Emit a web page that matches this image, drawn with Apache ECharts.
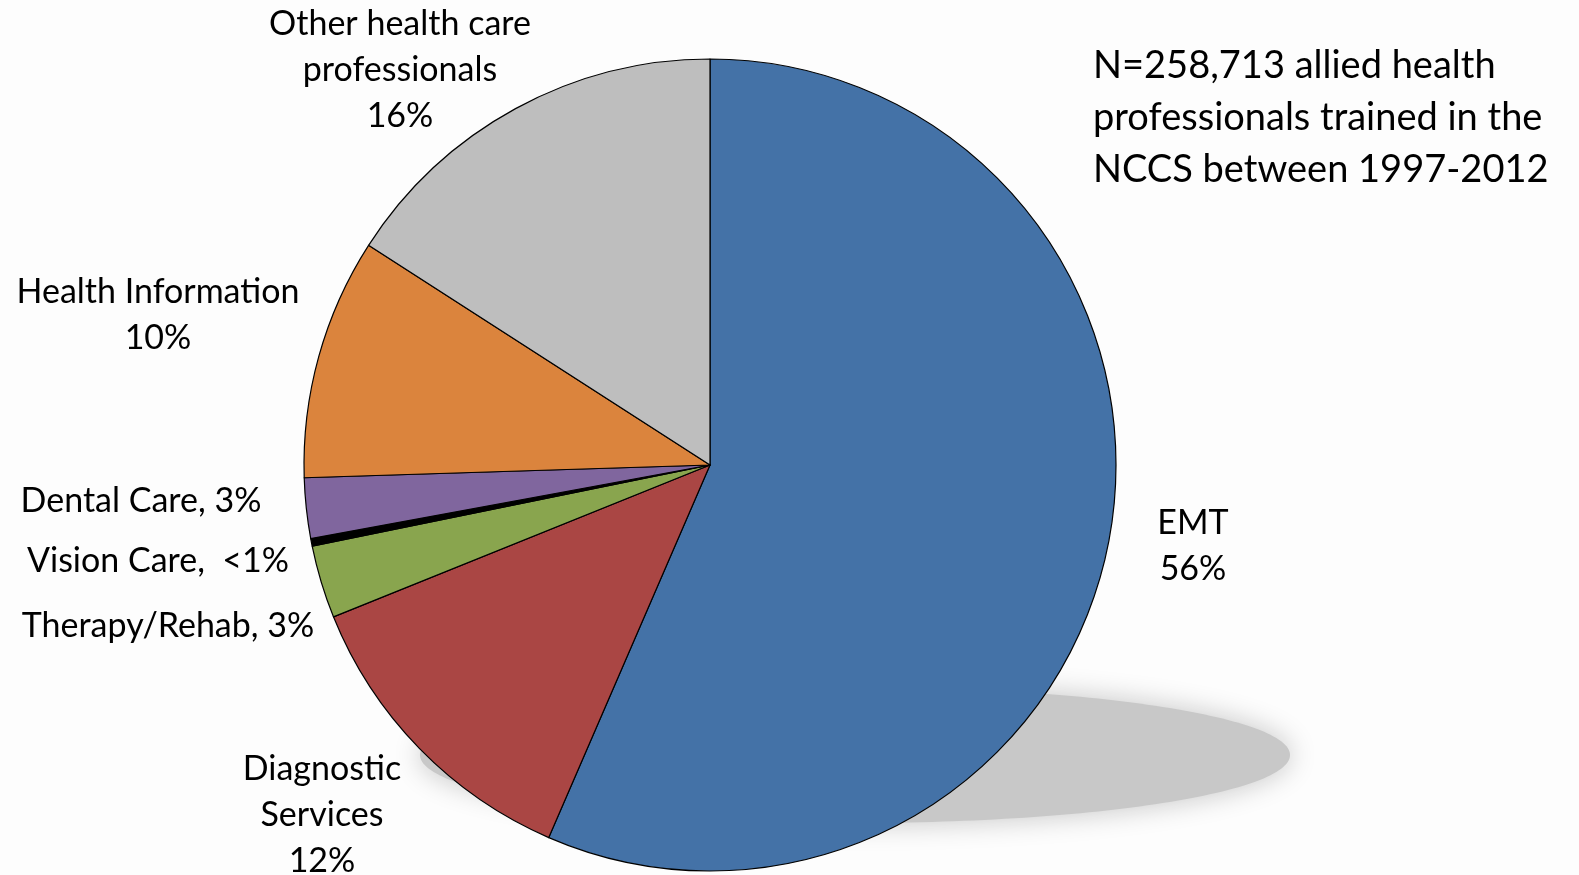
<html>
<script src="https://cdn.jsdelivr.net/npm/echarts@6/dist/echarts.min.js"></script>
<body style="margin:0;background:#fdfdfd">
<div style="width:1579px;height:875px" id="chartmain"></div>
<script type="text/javascript">
    // categories and shares (%)
    var names = ['EMT', 'Diagnostic Services', 'Therapy/Rehab', 'Vision Care', 'Dental Care', 'Health Information', 'Other health care professionals'];
    var values = [56.5, 12.4, 2.9, 0.3, 2.4, 9.6, 15.9];
    var labelText = ['EMT\n56%', 'Diagnostic\nServices\n12%', 'Therapy/Rehab, 3%', 'Vision Care,  <1%', 'Dental Care, 3%', 'Health Information\n10%', 'Other health care\nprofessionals\n16%'];
    var colors = ['#4472a7', '#aa4644', '#89a54e', '#000000', '#80669e', '#db843d', '#bebebe'];
    // label centres
    var labelPos = [[1193, 546], [322, 815], [168, 626], [158, 561], [141, 501], [158, 315], [400, 70]];

    var pieData = [];
    for (var i = 0; i < names.length; i++) {
        pieData.push({ name: names[i], value: values[i], itemStyle: { color: colors[i] } });
    }

    var option = {
        backgroundColor: '#fdfdfd',
        animation: false,
        title: {
            text: 'N=258,713 allied health\nprofessionals trained in the\nNCCS between 1997-2012',
            left: 1088,
            top: 35,
            textStyle: { fontFamily: 'Lato', fontSize: 38, fontWeight: 'normal', color: '#000', lineHeight: 52 }
        },
        graphic: [{
            type: 'ellipse',
            z: -10,
            shape: { cx: 855, cy: 755, rx: 435, ry: 68 },
            style: { fill: '#c8c8c8', shadowBlur: 28, shadowColor: '#c4c4c4' }
        }],
        series: [{
            type: 'pie',
            z: 5,
            center: [710, 465],
            radius: 406,
            startAngle: 90,
            clockwise: true,
            data: pieData,
            itemStyle: { borderColor: '#000', borderWidth: 1.2 },
            label: {
                show: true,
                formatter: function (p) { return labelText[p.dataIndex]; },
                fontFamily: 'Lato',
                fontSize: 34,
                lineHeight: 46,
                color: '#000',
                align: 'center',
                overflow: 'none',
                width: 400
            },
            labelLine: { show: false },
            labelLayout: function (p) {
                return { x: labelPos[p.dataIndex][0], y: labelPos[p.dataIndex][1], align: 'center', verticalAlign: 'middle' };
            }
        }]
    };
    var myChart = echarts.init(document.getElementById('chartmain'));
    myChart.setOption(option);
</script>
</body>
</html>
